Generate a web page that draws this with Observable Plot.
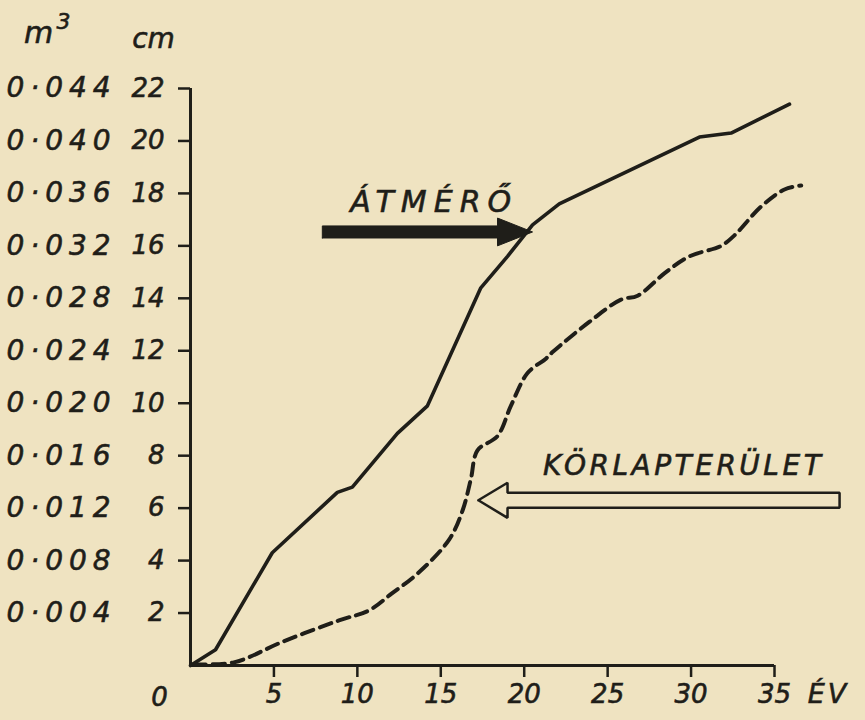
<!DOCTYPE html>
<html>
<head>
<meta charset="utf-8">
<script src="https://cdn.jsdelivr.net/npm/d3@7"></script>
<script src="https://cdn.jsdelivr.net/npm/@observablehq/plot@0.6"></script>
<style>
  html, body { margin: 0; padding: 0; background: #efe3c1; }
  #chart { width: 865px; height: 720px; }
</style>
</head>
<body>
<div id="chart"></div>
<script>
// ---- Data ----
// Diameter (cm) vs age (years)
const diamYears = [0, 1.5, 4.9, 8.8, 9.7, 12.4, 14.2, 17.4, 19.0, 20.5, 22.1, 30.5, 32.4, 35.9];
const diameterCm = [0, 0.6, 4.3, 6.6, 6.8, 8.85, 9.9, 14.4, 15.6, 16.8, 17.6, 20.15, 20.3, 21.4];

// Basal area (m³) vs age (years)
const areaYears = [0.2, 2.6, 5.5, 8.9, 10.7, 12.05, 13.6, 15.5, 16.3, 16.8, 17.2, 18.4, 19.2, 20.2, 21.3, 21.7, 23.9, 25.8, 26.8, 28.4, 29.9, 31.8, 32.6, 34.2, 35.6, 36.6];
const basalAreaM3 = [0.0001, 0.00024, 0.0018, 0.00344, 0.0042, 0.00548, 0.007, 0.0096, 0.0118, 0.0142, 0.0164, 0.0175, 0.0198, 0.0223, 0.0234, 0.0239, 0.0262, 0.0279, 0.0282, 0.0299, 0.0312, 0.032, 0.0328, 0.035, 0.0363, 0.0366];

// Axis ticks
const xTicks = [5, 10, 15, 20, 25, 30, 35];
const cmTicks = [2, 4, 6, 8, 10, 12, 14, 16, 18, 20, 22];
const m3TickLabels = ["0·004", "0·008", "0·012", "0·016", "0·020", "0·024", "0·028", "0·032", "0·036", "0·040", "0·044"];
const m3PerCm = 0.002; // 0.044 m³ ↔ 22 cm on the shared vertical scale

// Annotation arrows (data units: years, cm)
const atmeroArrow = [
  {x: 7.9, y: 16.30}, {x: 18.4, y: 16.30}, {x: 18.4, y: 16.00}, {x: 20.5, y: 16.53},
  {x: 18.4, y: 17.06}, {x: 18.4, y: 16.76}, {x: 7.9, y: 16.76}, {x: 7.9, y: 16.30}
];
const korlapArrow = [
  {x: 17.25, y: 6.30}, {x: 19.0, y: 6.97}, {x: 19.0, y: 6.59}, {x: 38.9, y: 6.59},
  {x: 38.9, y: 6.01}, {x: 19.0, y: 6.01}, {x: 19.0, y: 5.63}, {x: 17.25, y: 6.30}
];
const atmeroLabel = "ÁTMÉRŐ";
const korlapLabel = "KÖRLAPTERÜLET";

const diamData = diamYears.map((t, i) => ({t, v: diameterCm[i]}));
const areaData = areaYears.map((t, i) => ({t, v: basalAreaM3[i]}));

const ink = "#1f1e19";
const font = "'DejaVu Sans', sans-serif";

const plot = Plot.plot({
  width: 865,
  height: 720,
  marginLeft: 190,
  marginRight: 91,
  marginTop: 88,
  marginBottom: 55,
  x: {domain: [0, 35], axis: null},
  y: {domain: [0, 22], axis: null},
  style: {background: "#efe3c1", fontFamily: font, fontStyle: "italic", color: ink, overflow: "visible"},
  marks: [
    // axis lines
    Plot.ruleX([0], {y1: 0, y2: 22, stroke: ink, strokeWidth: 3}),
    Plot.ruleY([0], {x1: 0, x2: 35, stroke: ink, strokeWidth: 3}),
    // x axis
    Plot.axisX({ticks: xTicks, tickSize: 12, tickPadding: 7, fontSize: 26, stroke: ink, strokeWidth: 2.5, fill: ink, tickFormat: d => String(d)}),
    Plot.text([0], {x: d => d, y: 0, text: ["0"], dx: -31, dy: 32, fontSize: 26, fill: ink}),
    Plot.text([35], {x: d => d, y: 0, text: ["ÉV"], dx: 54, dy: 29, fontSize: 27, fill: ink}),
    // cm axis
    Plot.axisY({ticks: cmTicks, tickSize: 12, tickPadding: 14, fontSize: 26, stroke: ink, strokeWidth: 2.5, fill: ink, tickFormat: d => String(d)}),
    // m³ labels (same positions, 0.002 m³ per cm)
    Plot.text(cmTicks, {y: d => d, text: d => m3TickLabels[cmTicks.indexOf(d)], frameAnchor: "left", dx: -184, textAnchor: "start", fontSize: 28, fill: ink}),
    // unit headers
    Plot.text([0], {x: d => d, y: 22, text: ["cm"], dx: -37, dy: -49, fontSize: 28, fill: ink}),
    Plot.text([0], {x: d => d, y: 22, text: ["m"], dx: -152, dy: -55, fontSize: 30, fill: ink}),
    Plot.text([0], {x: d => d, y: 22, text: ["3"], dx: -127, dy: -67, fontSize: 22, fill: ink}),
    // series
    Plot.line(diamData, {x: "t", y: "v", stroke: ink, strokeWidth: 3.6, strokeLinejoin: "round", curve: "linear"}),
    Plot.line(areaData, {x: "t", y: d => d.v / m3PerCm, stroke: ink, strokeWidth: 4, strokeDasharray: "12,7", curve: "catmull-rom"}),
    // annotations
    Plot.line(atmeroArrow, {x: "x", y: "y", stroke: ink, strokeWidth: 1, fill: ink}),
    Plot.line(korlapArrow, {x: "x", y: "y", stroke: ink, strokeWidth: 2.5, strokeLinejoin: "miter", fill: "none"}),
    Plot.text([{x: 14.6, y: 17.65}], {x: "x", y: "y", text: [atmeroLabel], fontSize: 30, fill: ink}),
    Plot.text([{x: 29.55, y: 7.6}], {x: "x", y: "y", text: [korlapLabel], fontSize: 28, fill: ink})
  ]
});

document.getElementById("chart").appendChild(plot);

// Hand-lettered look: wider letter spacing and slightly heavier strokes
d3.select(plot).selectAll("text").each(function () {
  const s = this.textContent;
  let ls = null;
  if (m3TickLabels.includes(s)) ls = 6;
  else if (s === atmeroLabel) ls = 7;
  else if (s === korlapLabel) ls = 3.5;
  else if (s === "ÉV") ls = 3;
  if (ls !== null) {
    this.setAttribute("letter-spacing", ls);
    this.style.letterSpacing = ls + "px";
  }
  this.setAttribute("stroke", ink);
  this.setAttribute("stroke-width", 0.6);
});
</script>
</body>
</html>
